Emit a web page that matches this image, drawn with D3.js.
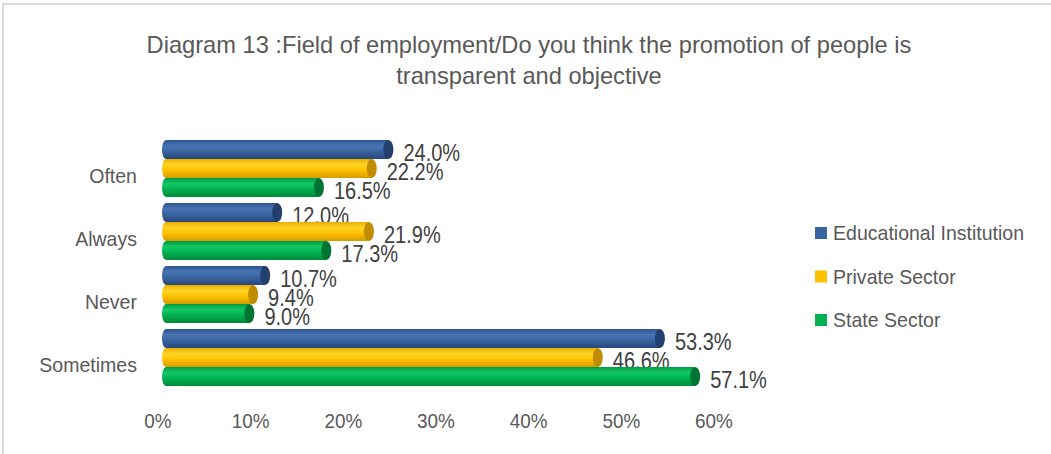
<!DOCTYPE html>
<html>
<head>
<meta charset="utf-8">
<script src="https://cdn.jsdelivr.net/npm/d3@7"></script>
<style>
  html, body { margin: 0; padding: 0; background: #fff; }
  svg { display: block; }
  text { font-family: "Liberation Sans", Arial, sans-serif; }
</style>
</head>
<body>
<svg id="chart" width="1051" height="454"></svg>
<script>
// Answers by field of employment
const categories = ["Often", "Always", "Never", "Sometimes"];
const seriesNames = ["Educational Institution", "Private Sector", "State Sector"];
const educational = [0.240, 0.120, 0.107, 0.533];
const privateSector = [0.222, 0.219, 0.094, 0.466];
const stateSector = [0.165, 0.173, 0.090, 0.571];
const xTicks = [0, 0.1, 0.2, 0.3, 0.4, 0.5, 0.6];
const titleLines = [
  "Diagram 13 :Field of employment/Do you think the promotion of people is",
  "transparent and objective"
];

const seriesValues = [educational, privateSector, stateSector];
const palette = [
  { top: "#2d548e", mid: "#4874b3", base: "#3a64a0", bottom: "#26477a", cap: "#233f6c" },
  { top: "#e8ae00", mid: "#ffd426", base: "#ffc000", bottom: "#d39c00", cap: "#c08c00" },
  { top: "#009a45", mid: "#14c866", base: "#00b050", bottom: "#008a3c", cap: "#007533" }
];

// squeeze text horizontally to mimic a condensed face
function condense(sel, factor) {
  sel.each(function () {
    const len = this.getComputedTextLength();
    d3.select(this).attr("textLength", len * factor).attr("lengthAdjust", "spacingAndGlyphs");
  });
}

const svg = d3.select("#chart");
const W = 1051, H = 454;

// chart border
svg.append("rect")
  .attr("x", 3).attr("y", 4).attr("width", W).attr("height", H)
  .attr("fill", "none").attr("stroke", "#d9d9d9").attr("stroke-width", 2);

// title
svg.append("g").selectAll("text").data(titleLines).join("text")
  .attr("x", 529).attr("y", (d, i) => 45 + i * 31)
  .attr("text-anchor", "middle").attr("dy", "0.35em")
  .attr("fill", "#595959").attr("font-size", 24)
  .text(d => d)
  .call(condense, 0.985);

// scales
const x = d3.scaleLinear().domain([0, 0.6]).range([166, 722]);
const y = d3.scaleBand().domain(categories).range([137, 389]).paddingInner(0.095).paddingOuter(0.0475);
const ySub = d3.scaleBand().domain(d3.range(seriesNames.length)).range([0, y.bandwidth()]);

// cylinder shading
const defs = svg.append("defs");
palette.forEach((p, i) => {
  const g = defs.append("linearGradient").attr("id", "cyl" + i)
    .attr("x1", 0).attr("y1", 0).attr("x2", 0).attr("y2", 1);
  g.append("stop").attr("offset", "0%").attr("stop-color", p.top);
  g.append("stop").attr("offset", "30%").attr("stop-color", p.mid);
  g.append("stop").attr("offset", "60%").attr("stop-color", p.base);
  g.append("stop").attr("offset", "100%").attr("stop-color", p.bottom);
});

// x axis tick labels (3D depth offset to the left)
const depth = 8;
svg.append("g").selectAll("text").data(xTicks).join("text")
  .attr("x", d => x(d) - depth).attr("y", 421)
  .attr("text-anchor", "middle").attr("dy", "0.35em")
  .attr("fill", "#595959").attr("font-size", 21)
  .text(d => d3.format(".0%")(d))
  .call(condense, 0.9);

// category labels
svg.append("g").selectAll("text").data(categories).join("text")
  .attr("x", 137).attr("y", d => y(d) + y.bandwidth() / 2 + 7)
  .attr("text-anchor", "end").attr("dy", "0.35em")
  .attr("fill", "#595959").attr("font-size", 21)
  .text(d => d)
  .call(condense, 0.93);

// bars
const rows = [];
categories.forEach((c, ci) => {
  seriesValues.forEach((vals, si) => rows.push({ cat: c, s: si, v: vals[ci] }));
});
const h = ySub.bandwidth();
const bars = svg.append("g").selectAll("g").data(rows).join("g")
  .attr("transform", d => `translate(0,${y(d.cat) + ySub(d.s)})`);

const rx0 = 4, rxCap = 5;
bars.append("ellipse")
  .attr("cx", x(0)).attr("cy", h / 2).attr("rx", rx0).attr("ry", h / 2)
  .attr("fill", d => `url(#cyl${d.s})`);
bars.append("rect")
  .attr("x", x(0)).attr("y", 0)
  .attr("width", d => x(d.v) - x(0)).attr("height", h)
  .attr("fill", d => `url(#cyl${d.s})`);
bars.append("ellipse")
  .attr("cx", d => x(d.v)).attr("cy", h / 2).attr("rx", rxCap).attr("ry", h / 2)
  .attr("fill", d => palette[d.s].cap);

// value labels
bars.append("text")
  .attr("x", d => x(d.v) + rxCap + 10).attr("y", h / 2 + 3)
  .attr("dy", "0.35em").attr("fill", "#404040").attr("font-size", 23)
  .text(d => d3.format(".1%")(d.v))
  .call(condense, 0.87);

// legend
const legendY = [233, 276.5, 320];
const legend = svg.append("g").selectAll("g").data(seriesNames).join("g")
  .attr("transform", (d, i) => `translate(815,${legendY[i]})`);
legend.append("rect")
  .attr("x", 0).attr("y", -6).attr("width", 12).attr("height", 12)
  .attr("fill", (d, i) => palette[i].base);
legend.append("text")
  .attr("x", 18).attr("y", 0).attr("dy", "0.35em")
  .attr("fill", "#595959").attr("font-size", 21)
  .text(d => d)
  .call(condense, 0.93);
</script>
</body>
</html>
